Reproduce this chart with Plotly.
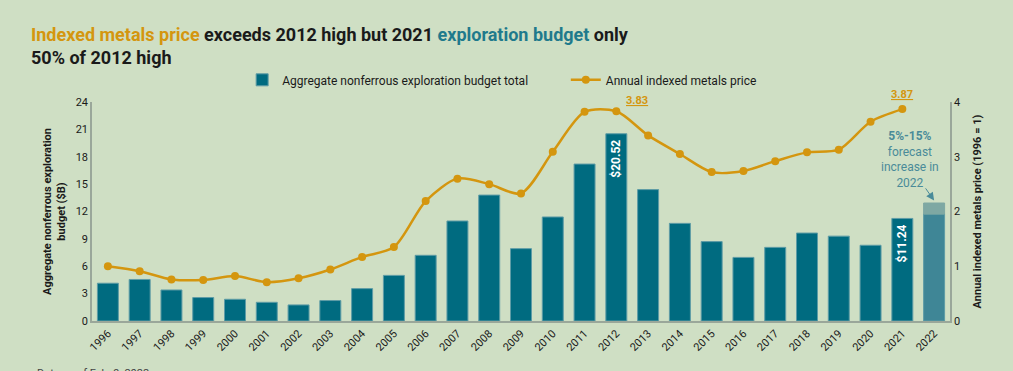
import plotly.graph_objects as go

years = [str(y) for y in range(1996, 2023)]
budget = [4.14, 4.55, 3.4, 2.57, 2.38, 2.05, 1.76, 2.24, 3.55, 5.0, 7.2, 10.96, 13.8, 7.93,
          11.4, 17.2, 20.52, 14.4, 10.7, 8.7, 6.97, 8.07, 9.64, 9.3, 8.3, 11.24, 11.72]
forecast_extra = 1.21  # upper part of the 2022 bar (forecast range)
price_years = years[:-1]
price = [1.0, 0.91, 0.76, 0.75, 0.82, 0.71, 0.78, 0.94, 1.17, 1.35, 2.19, 2.60, 2.50, 2.33,
         3.09, 3.82, 3.83, 3.39, 3.05, 2.72, 2.74, 2.92, 3.08, 3.13, 3.64, 3.87]
left_ticks = [0, 3, 6, 9, 12, 15, 18, 21, 24]
right_ticks = [0, 1, 2, 3, 4]

BG = "#cfdfc4"
TEAL = "#006b80"
GOLD = "#d4960f"
DARK = "#1a1a1a"
FONT = "Roboto"

i2012 = years.index("2012")
i2021 = years.index("2021")
i2022 = years.index("2022")

bar_colors = [TEAL] * (len(years) - 1) + ["#3f8696"]

fig = go.Figure()
fig.add_trace(go.Bar(
    x=years, y=budget, name="Aggregate nonferrous exploration budget total" + "\u00a0" * 11,
    marker=dict(color=bar_colors, line=dict(color="#5e9ca6", width=1)),
    width=0.66, yaxis="y", showlegend=True,
))
fig.add_trace(go.Bar(
    x=[years[-1]], y=[forecast_extra], base=[budget[-1]],
    marker=dict(color="#7ea8a3", line=dict(color="#7ea8a3", width=1)),
    width=0.66, yaxis="y", showlegend=False,
))
fig.add_trace(go.Scatter(
    x=price_years, y=price, name="Annual indexed metals price", yaxis="y2",
    mode="lines+markers", line=dict(color=GOLD, width=2.5, shape="spline", smoothing=0.8),
    marker=dict(color=GOLD, size=8),
))

title_text = (f"<b><span style='color:{GOLD}'>Indexed metals price</span> exceeds 2012 high but 2021 "
              f"<span style='color:#1f7a8c'>exploration budget</span> only<br>50% of 2012 high</b>")

annotations = [
    dict(x=-0.073, y=1.255, xref="paper", yref="paper", xanchor="left", yanchor="middle",
         text=title_text, showarrow=False, align="left",
         font=dict(size=18, family=FONT, color=DARK)),
    dict(x=i2012, y=budget[i2012] - 0.4, xref="x", yref="y", text="<b>$20.52</b>", textangle=-90,
         showarrow=False, yanchor="top", font=dict(color="white", size=12, family=FONT)),
    dict(x=i2021, y=budget[i2021] - 0.4, xref="x", yref="y", text="<b>$11.24</b>", textangle=-90,
         showarrow=False, yanchor="top", font=dict(color="white", size=12, family=FONT)),
    dict(x=i2012 + 0.65, y=price[i2012], xref="x", yref="y2", text="<b><u>3.83</u></b>",
         showarrow=False, yanchor="bottom", yshift=2, font=dict(color=GOLD, size=11, family=FONT)),
    dict(x=i2021, y=price[i2021], xref="x", yref="y2", text="<b><u>3.87</u></b>", showarrow=False,
         yanchor="bottom", yshift=6, font=dict(color=GOLD, size=11, family=FONT)),
    dict(x=i2022 - 0.75, y=3.55, xref="x", yref="y2",
         text="<b>5%-15%</b><br>forecast<br>increase in<br>2022", showarrow=False,
         yanchor="top", align="center",
         font=dict(color="#4a8b99", size=12, family=FONT)),
    dict(x=i2022, y=13.2, ax=i2022 - 0.3, ay=14.7, xref="x", yref="y", axref="x", ayref="y",
         text="", showarrow=True, arrowhead=2, arrowsize=1.6, arrowwidth=1,
         arrowcolor="#4a8b99"),
    dict(x=-0.066, y=-0.2, xref="paper", yref="paper", xanchor="left", yanchor="top",
         text="Data as of Feb. 9, 2022", showarrow=False,
         font=dict(size=11, color="#444")),
]

fig.update_layout(
    width=1013, height=371,
    paper_bgcolor=BG, plot_bgcolor=BG,
    margin=dict(l=92, r=63, t=102, b=50),
    font=dict(family=FONT, color=DARK, size=11),
    legend=dict(orientation="h", x=0.175, xanchor="left", y=1.035, yanchor="bottom",
                bgcolor="rgba(0,0,0,0)", font=dict(size=12), traceorder="normal"),
    barmode="overlay",
    xaxis=dict(type="category", range=[-0.5, len(years) - 0.5], tickangle=-45, showgrid=False,
               showline=True, linecolor="#9aa79a", linewidth=1.5, ticks="",
               tickfont=dict(size=11)),
    yaxis=dict(range=[0, 24], tickvals=left_ticks, showgrid=False, showline=True,
               linecolor="#9aa79a", linewidth=1.5, zeroline=False,
               title=dict(text="<b>Aggregate nonferrous exploration<br>budget ($B)</b>",
                          font=dict(size=11), standoff=8)),
    yaxis2=dict(range=[0, 4], tickvals=right_ticks, overlaying="y", side="right",
                showgrid=False, showline=True, linecolor="#9aa79a", linewidth=1.5,
                zeroline=False,
                title=dict(text="<b>Annual indexed metals price (1996 = 1)</b>",
                           font=dict(size=11), standoff=14)),
    annotations=annotations,
)

fig.write_html("out.html", config={"displayModeBar": False},
               post_script="document.body.style.margin='0';")
